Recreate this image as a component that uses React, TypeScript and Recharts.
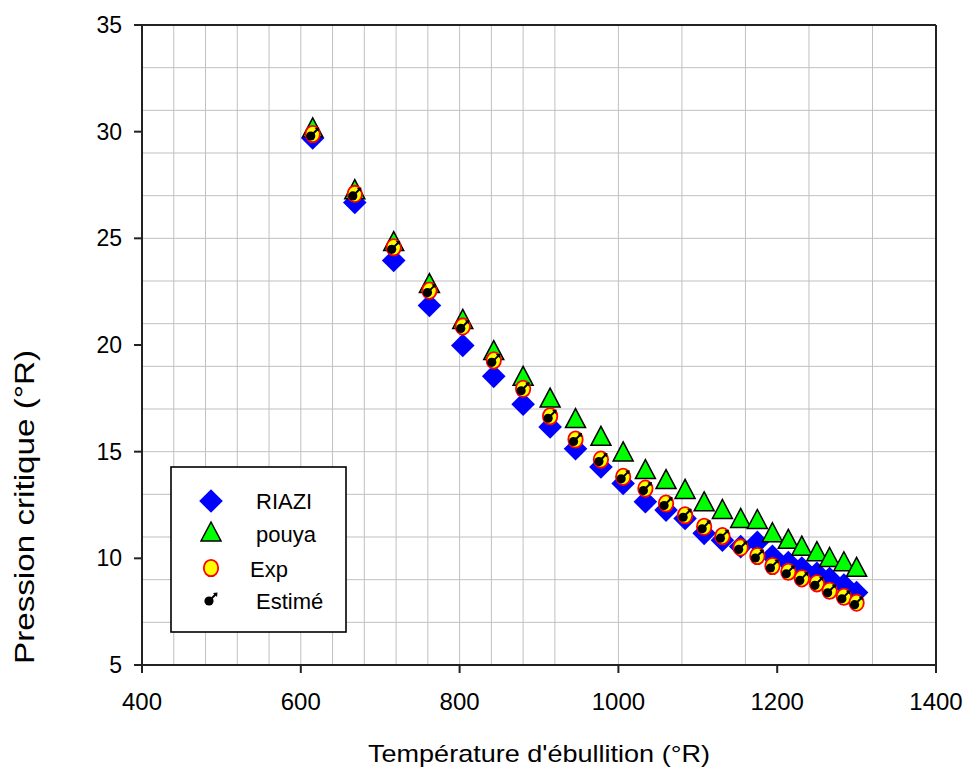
import React from 'react';
import { ScatterChart, Scatter, XAxis, YAxis, CartesianGrid, ReferenceLine, Legend } from 'recharts';

const temperatures = [615, 668, 717, 762, 804, 843, 880, 914, 946, 978, 1006, 1034, 1060, 1084, 1108, 1131, 1154, 1175, 1194, 1214, 1231, 1250, 1266, 1284, 1300];
const riazi = [29.7, 26.68, 23.96, 21.85, 19.98, 18.53, 17.22, 16.16, 15.14, 14.28, 13.51, 12.65, 12.26, 11.87, 11.17, 10.85, 10.55, 10.75, 10.1, 9.8, 9.55, 9.3, 9.05, 8.75, 8.4];
const pouya = [30.18, 27.28, 24.85, 22.88, 21.2, 19.74, 18.53, 17.51, 16.55, 15.72, 14.99, 14.16, 13.69, 13.23, 12.65, 12.29, 11.87, 11.82, 11.2, 10.89, 10.57, 10.31, 10.04, 9.84, 9.58];
const exp = [29.89, 27.08, 24.58, 22.55, 20.87, 19.28, 17.95, 16.66, 15.57, 14.63, 13.82, 13.27, 12.57, 12.02, 11.48, 11.04, 10.51, 10.11, 9.64, 9.37, 9.06, 8.83, 8.48, 8.2, 7.92];
const estime = [29.89, 27.08, 24.58, 22.55, 20.87, 19.28, 17.95, 16.66, 15.57, 14.63, 13.82, 13.27, 12.57, 12.02, 11.48, 11.04, 10.51, 10.11, 9.64, 9.37, 9.06, 8.83, 8.48, 8.2, 7.92];

const seriesNames = ['RIAZI', 'pouya', 'Exp', 'Estimé'];
const xTicks = [400, 600, 800, 1000, 1200, 1400];
const yTicks = [5, 10, 15, 20, 25, 30, 35];
const xGrid = [400, 440, 480, 520, 560, 600, 640, 680, 720, 760, 800, 840, 880, 920, 960, 1000, 1040, 1080, 1120, 1160, 1200, 1240, 1280, 1320, 1360, 1400];
const yGrid = [5, 6, 7, 8, 9, 10, 11, 12, 13, 14, 15, 16, 17, 18, 19, 20, 21, 22, 23, 24, 25, 26, 27, 28, 29, 30, 31, 32, 33, 34, 35];
const xTitle = "Température d'ébullition (°R)";
const yTitle = 'Pression critique (°R)';

const FONT = '"Liberation Sans", Arial, sans-serif';

const toPoints = (ys: number[]) => temperatures.map((t, i) => ({ x: t, y: ys[i] }));

const diamondPath = (cx: number, cy: number, r: number) =>
  `M${cx},${cy - r}L${cx + r},${cy}L${cx},${cy + r}L${cx - r},${cy}Z`;

const DiamondSym = ({ cx, cy }: any) =>
  cx == null ? null : <path d={diamondPath(cx, cy, 11.8)} fill="#0000FF" />;

const TriangleSym = ({ cx, cy }: any) =>
  cx == null ? null : (
    <path d={`M${cx},${cy - 10}L${cx + 10},${cy + 9}L${cx - 10},${cy + 9}Z`} fill="#00FF00" stroke="#000" strokeWidth={1.5} strokeLinejoin="miter" />
  );

const CircleSym = ({ cx, cy }: any) =>
  cx == null ? null : <ellipse cx={cx} cy={cy} rx={7.2} ry={8.2} fill="#FFFF00" stroke="#FF0000" strokeWidth={1.8} />;

const EstimeSym = ({ cx, cy }: any) => {
  if (cx == null) return null;
  const dx = cx - 2;
  const dy = cy + 2;
  return (
    <g>
      <line x1={dx} y1={dy} x2={cx + 5} y2={cy - 5} stroke="#000" strokeWidth={2} />
      <path d={`M${cx + 6.5},${cy - 6.5}L${cx + 2},${cy - 6}L${cx + 6},${cy - 2}Z`} fill="#000" />
      <circle cx={dx} cy={dy} r={4.6} fill="#000" />
    </g>
  );
};

const symbolFor: Record<string, (p: any) => any> = {
  RIAZI: DiamondSym,
  pouya: TriangleSym,
  Exp: CircleSym,
  'Estimé': EstimeSym,
};

const legendLayout: Record<string, { sx: number; sy: number; tx: number; ty: number }> = {
  RIAZI: { sx: 41, sy: 35, tx: 86, ty: 43 },
  pouya: { sx: 41, sy: 66, tx: 86, ty: 76 },
  Exp: { sx: 41, sy: 102, tx: 80, ty: 111 },
  'Estimé': { sx: 41, sy: 133, tx: 86, ty: 143 },
};

const LegendContent = () => (
  <svg width={178} height={168} style={{ display: 'block' }}>
    <rect x={1} y={1} width={175} height={165} fill="#fff" stroke="#000" strokeWidth={1.6} />
    {seriesNames.map((n) => {
      const L = legendLayout[n];
      const Sym = symbolFor[n];
      return (
        <g key={n}>
          <Sym cx={L.sx} cy={L.sy} />
          <text x={L.tx} y={L.ty} fontSize={22} fontFamily={FONT} fill="#000">{n}</text>
        </g>
      );
    })}
  </svg>
);

const YTitle = () => (
  <text
    x={33.5}
    y={507}
    transform="rotate(-90 33.5 507)"
    textAnchor="middle"
    fontSize={27}
    fontFamily={FONT}
    fill="#000"
    textLength={314}
    lengthAdjust="spacingAndGlyphs"
  >
    {yTitle}
  </text>
);

const XTitle = () => (
  <text x={539} y={762} textAnchor="middle" fontSize={24} fontFamily={FONT} fill="#000" textLength={342} lengthAdjust="spacingAndGlyphs">
    {xTitle}
  </text>
);

export default function App() {
  return (
    <div style={{ position: 'absolute', left: 0, top: 0, width: 965, height: 771, background: '#fff' }}>
      <ScatterChart width={965} height={771} margin={{ top: 25, right: 29, bottom: 46, left: 62 }}>
        <CartesianGrid horizontal={false} vertical verticalValues={xGrid} stroke="#c0c0c0" strokeWidth={1} />
        <CartesianGrid horizontal vertical={false} horizontalValues={yGrid} stroke="#c0c0c0" strokeWidth={1} />
        <XAxis
          type="number"
          dataKey="x"
          domain={[400, 1400]}
          ticks={xTicks}
          allowDataOverflow
          height={60}
          tickSize={8}
          tickMargin={20}
          axisLine={{ stroke: '#222', strokeWidth: 2 }}
          tickLine={{ stroke: '#222', strokeWidth: 2 }}
          tick={{ fontSize: 24, fontFamily: FONT, fill: '#000' }}
          label={<XTitle />}
        />
        <YAxis
          type="number"
          dataKey="y"
          domain={[5, 35]}
          ticks={yTicks}
          allowDataOverflow
          width={80}
          tickSize={8}
          tickMargin={12}
          axisLine={{ stroke: '#222', strokeWidth: 2 }}
          tickLine={{ stroke: '#222', strokeWidth: 2 }}
          tick={{ fontSize: 23, fontFamily: FONT, fill: '#000' }}
          label={<YTitle />}
        />
        <ReferenceLine y={35} stroke="#222" strokeWidth={2} />
        <ReferenceLine x={1400} stroke="#222" strokeWidth={2} />
        <Scatter name="RIAZI" data={toPoints(riazi)} shape={DiamondSym} isAnimationActive={false} />
        <Scatter name="pouya" data={toPoints(pouya)} shape={TriangleSym} isAnimationActive={false} />
        <Scatter name="Exp" data={toPoints(exp)} shape={CircleSym} isAnimationActive={false} />
        <Scatter name="Estimé" data={toPoints(estime)} shape={EstimeSym} isAnimationActive={false} />
        <Legend
          layout="vertical"
          align="center"
          verticalAlign="middle"
          content={<LegendContent />}
          wrapperStyle={{ position: 'absolute', left: 170, top: 466, width: 178, height: 168, margin: 0, padding: 0 }}
        />
      </ScatterChart>
    </div>
  );
}
